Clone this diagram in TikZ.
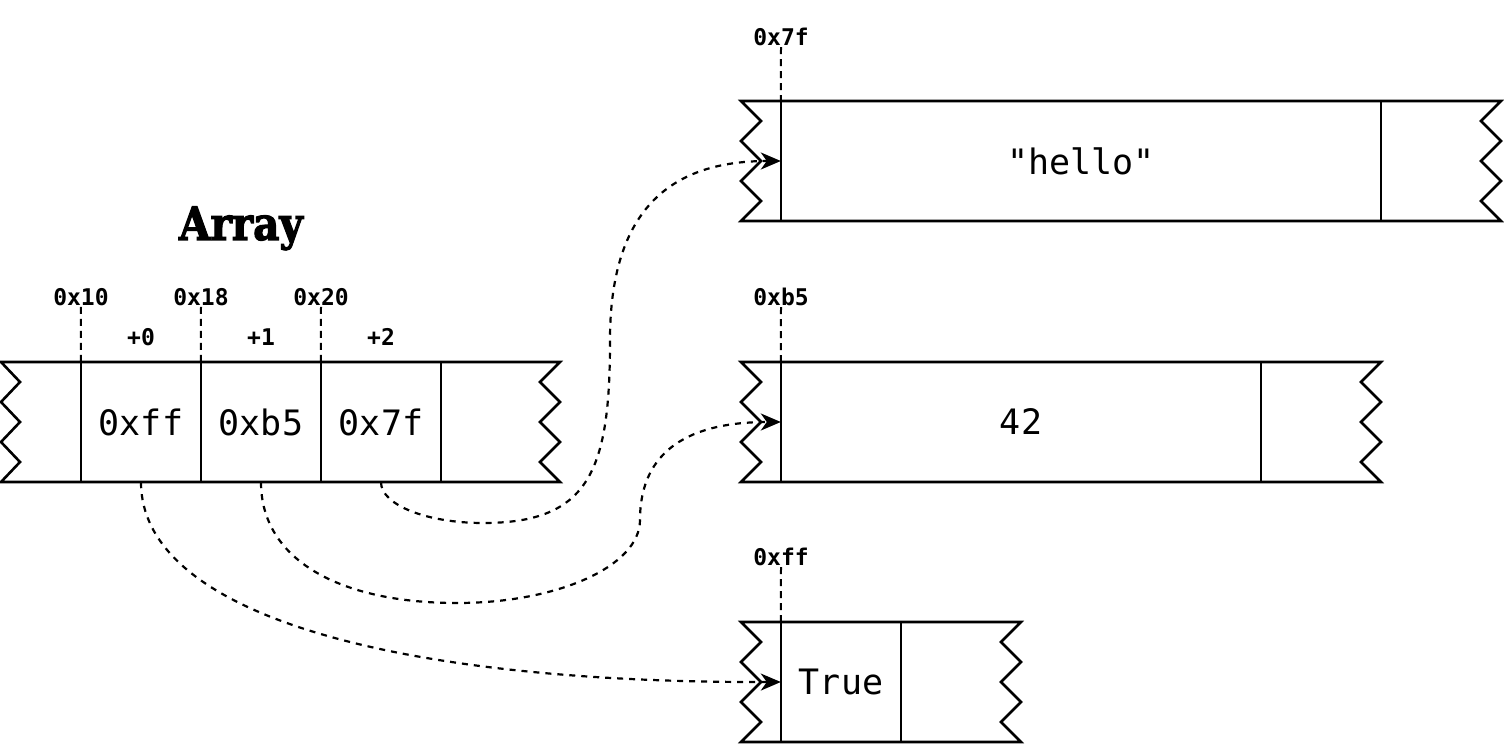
\documentclass[tikz,border=0pt]{standalone}
\usepackage{fontspec}
\setmonofont{DejaVu Sans Mono}
\newfontfamily\titlefont[FakeStretch=0.88,FakeBold=2.5,UprightFont={DejaVu Serif Bold},BoldFont={DejaVu Serif Bold}]{DejaVu Serif}
\usetikzlibrary{arrows.meta}
\begin{document}
\begin{tikzpicture}[x=1pt,y=-1pt,
  strip/.style={line width=2.6pt, line join=miter},
  divider/.style={line width=2.4pt},
  cellnode/.style={minimum width=120pt, minimum height=120pt, inner sep=0pt, font=\ttfamily\fontsize{35}{40}\selectfont},
  addr/.style={font=\ttfamily\bfseries\fontsize{23}{26}\selectfont, inner sep=1pt},
  addrline/.style={line width=2pt, dash pattern=on 7pt off 5pt},
  ptr/.style={line width=2.2pt, dash pattern=on 6pt off 6pt, -{Stealth[length=20pt,width=17pt,inset=6pt]}}]
\useasboundingbox (0,0) rectangle (1504,746);

% title
\node[anchor=base, inner sep=0pt] (title) at (241,240) {\titlefont\fontsize{46}{50}\selectfont Array};

% array strip
\draw[strip] (1,362) -- (560,362) -- (540,382) -- (560,402) -- (540,422) -- (560,442) -- (540,462) -- (560,482)
  -- (1,482) -- (20,462) -- (1,442) -- (20,422) -- (1,402) -- (20,382) -- cycle;
\node[cellnode] (a0) at (141,422) {0xff};
\node[cellnode] (a1) at (261,422) {0xb5};
\node[cellnode] (a2) at (381,422) {0x7f};
\node[cellnode] (a3) at (501,422) {};
\foreach \c in {a0,a1,a2,a3} \draw[divider] (\c.north west) -- (\c.south west);

% array address labels
\node[addr] (l0) at (81,297) {0x10};
\node[addr] (l1) at (201,297) {0x18};
\node[addr] (l2) at (321,297) {0x20};
\draw[addrline] (l0.south) -- (a0.north west);
\draw[addrline] (l1.south) -- (a1.north west);
\draw[addrline] (l2.south) -- (a2.north west);
\node[addr] (o0) at (141,337) {+0};
\node[addr] (o1) at (261,337) {+1};
\node[addr] (o2) at (381,337) {+2};

% hello box
\draw[strip] (741,101) -- (1501,101) -- (1481,121) -- (1501,141) -- (1481,161) -- (1501,181) -- (1481,201) -- (1501,221)
  -- (741,221) -- (761,201) -- (741,181) -- (761,161) -- (741,141) -- (761,121) -- cycle;
\node[cellnode, minimum width=600pt] (hv) at (1081,161) {"hello"};
\node[cellnode] (hx) at (1441,161) {};
\draw[divider] (hv.north west) -- (hv.south west);
\draw[divider] (hx.north west) -- (hx.south west);
\node[addr] (lh) at (781,37) {0x7f};
\draw[addrline] (lh.south) -- (hv.north west);

% 42 box
\draw[strip] (741,362) -- (1381,362) -- (1361,382) -- (1381,402) -- (1361,422) -- (1381,442) -- (1361,462) -- (1381,482)
  -- (741,482) -- (761,462) -- (741,442) -- (761,422) -- (741,402) -- (761,382) -- cycle;
\node[cellnode, minimum width=480pt] (nv) at (1021,422) {42};
\node[cellnode] (nx) at (1321,422) {};
\draw[divider] (nv.north west) -- (nv.south west);
\draw[divider] (nx.north west) -- (nx.south west);
\node[addr] (ln) at (781,297) {0xb5};
\draw[addrline] (ln.south) -- (nv.north west);

% True box
\draw[strip] (741,622) -- (1021,622) -- (1001,642) -- (1021,662) -- (1001,682) -- (1021,702) -- (1001,722) -- (1021,742)
  -- (741,742) -- (761,722) -- (741,702) -- (761,682) -- (741,662) -- (761,642) -- cycle;
\node[cellnode] (tv) at (841,682) {True};
\node[cellnode] (tx) at (961,682) {};
\draw[divider] (tv.north west) -- (tv.south west);
\draw[divider] (tx.north west) -- (tx.south west);
\node[addr] (lt) at (781,557) {0xff};
\draw[addrline] (lt.south) -- (tv.north west);

% pointers
\draw[ptr] (a2.south) .. controls (381,505) and (427,523) .. (483,523)
  .. controls (590,523) and (610,470) .. (610,340)
  .. controls (610,200) and (680,161) .. (hv.west);
\draw[ptr] (a1.south) .. controls (261,560) and (340,603) .. (457,603)
  .. controls (558,603) and (640,566) .. (640,520)
  .. controls (640,450) and (690,422) .. (nv.west);
\draw[ptr] (a0.south) .. controls (141,610) and (380,683) .. (tv.west);
\end{tikzpicture}
\end{document}
